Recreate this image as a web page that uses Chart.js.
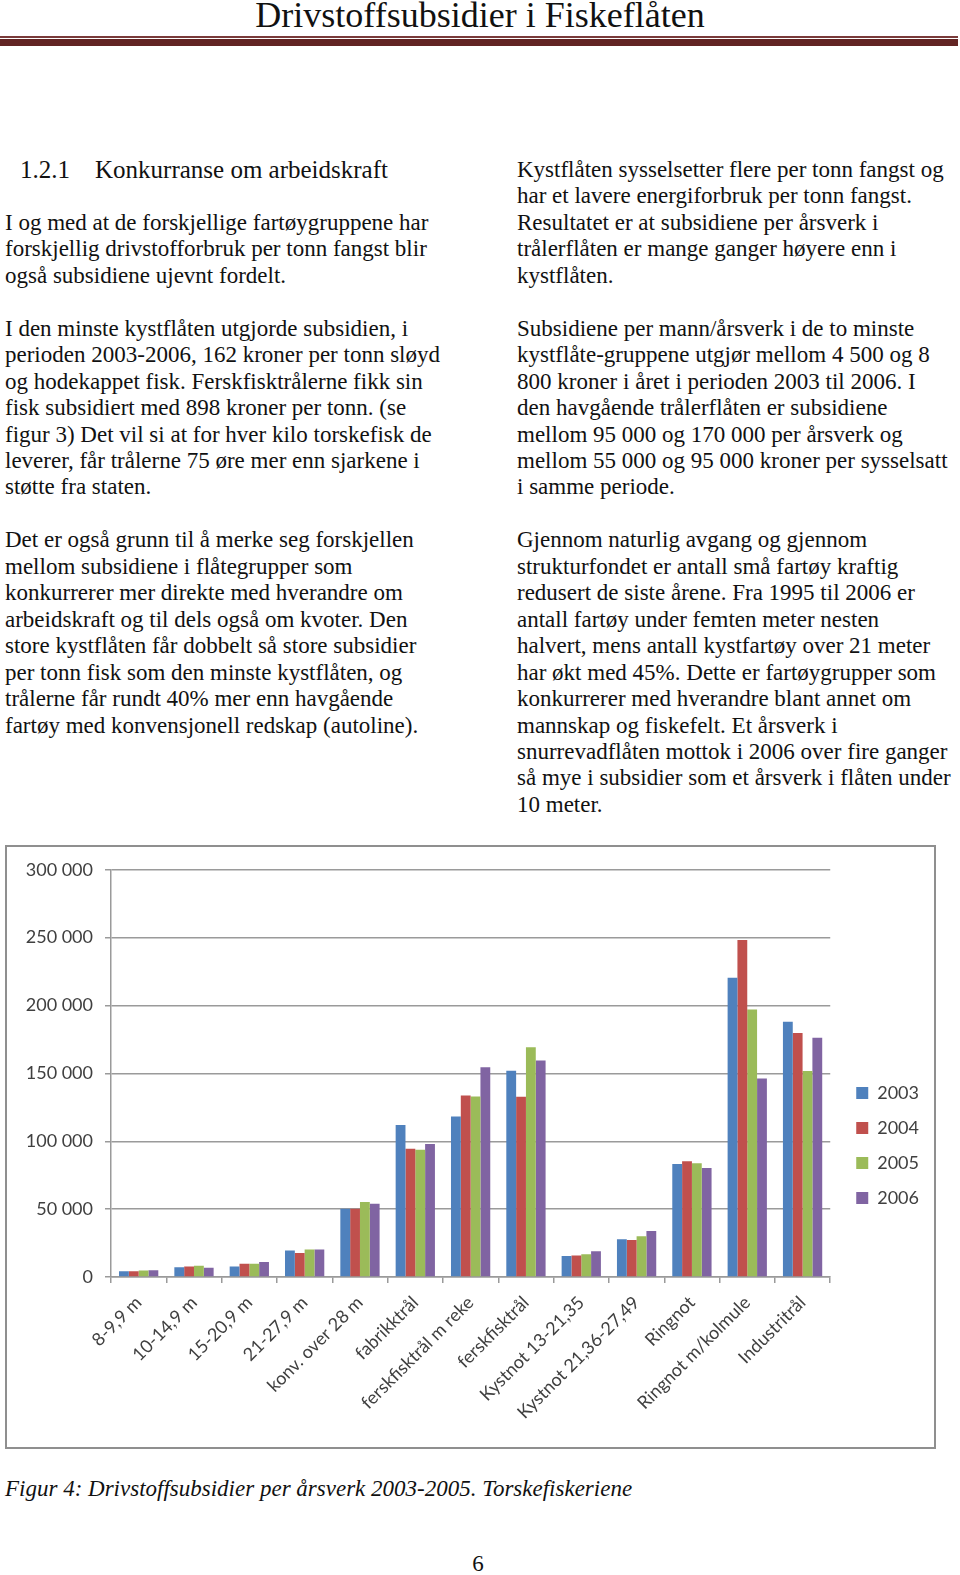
<!DOCTYPE html>
<html lang="no">
  <head>
    <meta charset="UTF-8" />
    <title>Drivstoffsubsidier i Fiskeflåten</title>
    <script src="https://cdn.jsdelivr.net/npm/chart.js"></script>
    <style>
      body {
        margin: 0;
        width: 960px;
        height: 1575px;
        position: relative;
        background: #fff;
        color: #111;
        font-family: "Liberation Serif", "Times New Roman", serif;
        overflow: hidden;
      }
      .title {
        position: absolute;
        left: 0;
        width: 960px;
        top: 0;
        text-align: center;
        font-size: 36px;
        line-height: 30px;
      }
      .rule-thin {
        position: absolute;
        left: 0;
        width: 958px;
        top: 36px;
        height: 1.5px;
        background: #7a3b3a;
      }
      .rule-thick {
        position: absolute;
        left: 0;
        width: 958px;
        top: 39px;
        height: 6.5px;
        background: #622423;
      }
      .col {
        position: absolute;
        top: 157px;
        font-size: 23px;
        line-height: 26.45px;
        white-space: nowrap;
      }
      .left { left: 5px; }
      .right { left: 517px; }
      .head { position: relative; font-size: 25px; }
      .chart-box {
        position: absolute;
        left: 5px;
        top: 845px;
        width: 931px;
        height: 604px;
        box-sizing: border-box;
        border: 2px solid #8f8f8f;
      }
      .caption {
        position: absolute;
        left: 5px;
        top: 1476px;
        font-size: 23px;
        line-height: 26px;
        font-style: italic;
      }
      .pagenr {
        position: absolute;
        left: 0;
        width: 956px;
        top: 1551px;
        text-align: center;
        font-size: 23px;
        line-height: 26px;
      }
    </style>
  </head>
  <body>
    <div class="title">Drivstoffsubsidier i Fiskeflåten</div>
    <div class="rule-thin"></div>
    <div class="rule-thick"></div>

    <div class="col left">
      <div class="head"><span style="padding-left: 15px">1.2.1</span><span style="position: absolute; left: 90px">Konkurranse om arbeidskraft</span></div>
      <br />
      I og med at de forskjellige fartøygruppene har<br />
      forskjellig drivstofforbruk per tonn fangst blir<br />
      også subsidiene ujevnt fordelt.<br />
      <br />
      I den minste kystflåten utgjorde subsidien, i<br />
      perioden 2003-2006, 162 kroner per tonn sløyd<br />
      og hodekappet fisk. Ferskfisktrålerne fikk sin<br />
      fisk subsidiert med 898 kroner per tonn. (se<br />
      figur 3) Det vil si at for hver kilo torskefisk de<br />
      leverer, får trålerne 75 øre mer enn sjarkene i<br />
      støtte fra staten.<br />
      <br />
      Det er også grunn til å merke seg forskjellen<br />
      mellom subsidiene i flåtegrupper som<br />
      konkurrerer mer direkte med hverandre om<br />
      arbeidskraft og til dels også om kvoter. Den<br />
      store kystflåten får dobbelt så store subsidier<br />
      per tonn fisk som den minste kystflåten, og<br />
      trålerne får rundt 40% mer enn havgående<br />
      fartøy med konvensjonell redskap (autoline).
    </div>

    <div class="col right">
      Kystflåten sysselsetter flere per tonn fangst og<br />
      har et lavere energiforbruk per tonn fangst.<br />
      Resultatet er at subsidiene per årsverk i<br />
      trålerflåten er mange ganger høyere enn i<br />
      kystflåten.<br />
      <br />
      Subsidiene per mann/årsverk i de to minste<br />
      kystflåte-gruppene utgjør mellom 4 500 og 8<br />
      800 kroner i året i perioden 2003 til 2006. I<br />
      den havgående trålerflåten er subsidiene<br />
      mellom 95 000 og 170 000 per årsverk og<br />
      mellom 55 000 og 95 000 kroner per sysselsatt<br />
      i samme periode.<br />
      <br />
      Gjennom naturlig avgang og gjennom<br />
      strukturfondet er antall små fartøy kraftig<br />
      redusert de siste årene. Fra 1995 til 2006 er<br />
      antall fartøy under femten meter nesten<br />
      halvert, mens antall kystfartøy over 21 meter<br />
      har økt med 45%. Dette er fartøygrupper som<br />
      konkurrerer med hverandre blant annet om<br />
      mannskap og fiskefelt. Et årsverk i<br />
      snurrevadflåten mottok i 2006 over fire ganger<br />
      så mye i subsidier som et årsverk i flåten under<br />
      10 meter.
    </div>

    <div class="chart-box">
      <canvas id="subsidyChart" width="927" height="600"></canvas>
    </div>

    <div class="caption">Figur 4: Drivstoffsubsidier per årsverk 2003-2005. Torskefiskeriene</div>
    <div class="pagenr">6</div>

    <script>
      // fartøygrupper
      const categories = [
        "8-9,9 m",
        "10-14,9 m",
        "15-20,9 m",
        "21-27,9 m",
        "konv. over 28 m",
        "fabrikktrål",
        "ferskfisktrål m reke",
        "ferskfisktrål",
        "Kystnot 13-21,35",
        "Kystnot 21,36-27,49",
        "Ringnot",
        "Ringnot m/kolmule",
        "Industritrål",
      ];

      // kroner per årsverk, lest av figuren
      const y2003 = [4200, 7100, 7800, 19600, 50200, 111900, 118300, 151900, 15400, 27900, 83300, 220400, 188100];
      const y2004 = [4200, 7800, 9800, 17600, 50200, 94500, 133700, 132800, 15900, 27200, 85200, 248300, 179800];
      const y2005 = [4700, 8300, 9800, 20300, 55300, 93800, 133000, 169300, 16700, 30100, 83800, 197100, 151800];
      const y2006 = [4900, 6900, 11000, 20300, 53900, 98000, 154500, 159500, 18900, 33800, 80300, 146200, 176300];

      const yearLabels = ["2003", "2004", "2005", "2006"];
      const yTicks = [0, 50000, 100000, 150000, 200000, 250000, 300000];

      const axisFont = { family: "Lato", size: 18 };
      const gridGrey = "#9a9a9a";

      // flytt legenden litt, slik som i Excel-figuren
      const legendShift = {
        id: "legendShift",
        afterLayout(chart) {
          const lg = chart.legend;
          lg.left += 9;
          lg.right += 9;
          lg.top -= 11;
          lg.bottom -= 11;
        },
      };

      function fmt(v) {
        return String(v).replace(/\B(?=(\d{3})+(?!\d))/g, " ");
      }

      const ctx = document.getElementById("subsidyChart").getContext("2d");
      new Chart(ctx, {
        type: "bar",
        data: {
          labels: categories,
          datasets: [
            { label: yearLabels[0], data: y2003, backgroundColor: "#4f81bd" },
            { label: yearLabels[1], data: y2004, backgroundColor: "#c0504d" },
            { label: yearLabels[2], data: y2005, backgroundColor: "#9bbb59" },
            { label: yearLabels[3], data: y2006, backgroundColor: "#8064a2" },
          ],
        },
        options: {
          responsive: false,
          animation: false,
          categoryPercentage: 0.71,
          barPercentage: 1,
          layout: { padding: { top: 19, right: 14, bottom: 0, left: 0 } },
          plugins: {
            legend: {
              position: "right",
              labels: {
                boxWidth: 12,
                boxHeight: 12,
                padding: 17,
                color: "#404040",
                font: axisFont,
              },
            },
            tooltip: { enabled: false },
          },
          scales: {
            x: {
              grid: {
                display: true,
                offset: true,
                drawOnChartArea: false,
                drawTicks: true,
                tickLength: 6,
                color: gridGrey,
                lineWidth: 1.5,
              },
              border: { color: gridGrey, width: 1.5 },
              ticks: {
                minRotation: 45,
                maxRotation: 45,
                autoSkip: false,
                padding: 9,
                color: "#404040",
                font: axisFont,
              },
              afterFit(scale) {
                scale.height = 170;
              },
            },
            y: {
              min: yTicks[0],
              max: yTicks[yTicks.length - 1],
              afterBuildTicks(scale) {
                scale.ticks = yTicks.map((v) => ({ value: v }));
              },
              ticks: {
                padding: 12,
                color: "#404040",
                font: axisFont,
                callback: (v) => fmt(v),
              },
              grid: { color: gridGrey, lineWidth: 1.5, tickLength: 6 },
              border: { color: gridGrey, width: 1.5 },
              afterFit(scale) {
                scale.width = 104;
              },
            },
          },
        },
        plugins: [legendShift],
      });
    </script>
  </body>
</html>
